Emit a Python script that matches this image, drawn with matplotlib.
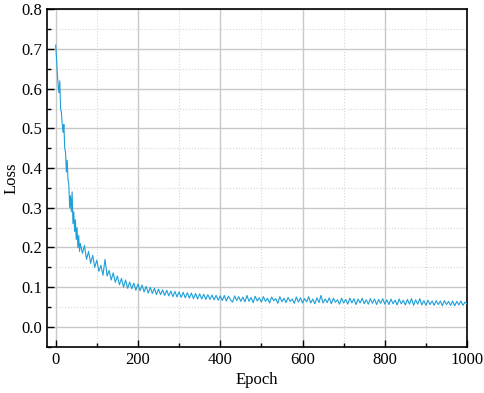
import numpy as np
import matplotlib
matplotlib.use('Agg')
import matplotlib.pyplot as plt
from matplotlib.ticker import MultipleLocator, FormatStrFormatter

plt.rcParams['font.family'] = ['Liberation Serif', 'DejaVu Serif']

# 前60个epoch每2步读一次，之后每5步读一次
epochs = np.r_[0:60:2, 60:1001:5]

loss_early = [0.71, 0.68, 0.64, 0.61, 0.59, 0.62, 0.55, 0.54, 0.51, 0.49,
              0.51, 0.45, 0.44, 0.39, 0.42, 0.37, 0.36, 0.30, 0.33, 0.29,
              0.34, 0.26, 0.29, 0.24, 0.27, 0.22, 0.25, 0.20, 0.23, 0.19]

loss_mid = [0.21, 0.185, 0.205, 0.17, 0.19, 0.16, 0.18, 0.15, 0.168, 0.14,  # 60-105
            0.155, 0.13, 0.17, 0.128, 0.142, 0.118, 0.136, 0.112, 0.128, 0.106,  # 110-155
            0.122, 0.10, 0.118, 0.097, 0.113, 0.096, 0.11, 0.092, 0.108, 0.091,  # 160-205
            0.105, 0.088, 0.102, 0.085, 0.099, 0.084, 0.097, 0.081, 0.095, 0.081,  # 210-255
            0.093, 0.079, 0.092, 0.078, 0.09, 0.076, 0.089, 0.075, 0.088, 0.074,  # 260-305
            0.087, 0.073, 0.086, 0.072, 0.085, 0.071, 0.084, 0.07, 0.083, 0.07,  # 310-355
            0.082, 0.069, 0.081, 0.069, 0.08, 0.068, 0.079, 0.067, 0.078]  # 360-400

loss_late = [0.066, 0.079, 0.065, 0.077, 0.068, 0.062, 0.078, 0.066, 0.076, 0.064,  # 405-450
             0.075, 0.063, 0.079, 0.064, 0.074, 0.061, 0.077, 0.065, 0.073, 0.062,  # 455-500
             0.076, 0.064, 0.072, 0.060, 0.075, 0.066, 0.071, 0.059, 0.076, 0.063,  # 505-550
             0.072, 0.061, 0.074, 0.064, 0.070, 0.059, 0.075, 0.062, 0.073, 0.060,  # 555-600
             0.071, 0.063, 0.076, 0.060, 0.070, 0.058, 0.073, 0.061, 0.079, 0.060,  # 605-650
             0.070, 0.061, 0.073, 0.058, 0.072, 0.062, 0.068, 0.057, 0.072, 0.060,  # 655-700
             0.069, 0.057, 0.072, 0.060, 0.071, 0.056, 0.070, 0.060, 0.072, 0.058,  # 705-750
             0.068, 0.057, 0.071, 0.059, 0.070, 0.056, 0.069, 0.059, 0.071, 0.057,  # 755-800
             0.068, 0.056, 0.070, 0.058, 0.067, 0.055, 0.070, 0.058, 0.067, 0.055,  # 805-850
             0.069, 0.057, 0.071, 0.054, 0.068, 0.057, 0.071, 0.055, 0.066, 0.054,  # 855-900
             0.067, 0.056, 0.065, 0.054, 0.066, 0.056, 0.065, 0.053, 0.066, 0.056,  # 905-950
             0.064, 0.054, 0.065, 0.053, 0.064, 0.055, 0.065, 0.054, 0.062, 0.058]  # 955-1000

loss = np.array(loss_early + loss_mid + loss_late)
n = min(len(epochs), len(loss))
epochs = epochs[:n]
loss = loss[:n]

fig = plt.figure(figsize=(4.84, 3.93), dpi=100)
ax = fig.add_axes([0.098, 0.118, 0.867, 0.858])

ax.plot(epochs, loss, color='#1e9fd8', linewidth=0.8, zorder=3)

ax.set_xlim(-20, 1000)
ax.set_ylim(-0.05, 0.8)
ax.xaxis.set_major_locator(MultipleLocator(200))
ax.xaxis.set_minor_locator(MultipleLocator(100))
ax.yaxis.set_major_locator(MultipleLocator(0.1))
ax.yaxis.set_minor_locator(MultipleLocator(0.05))
ax.yaxis.set_major_formatter(FormatStrFormatter('%.1f'))

ax.grid(which='major', color='#c8c8c8', linewidth=1.0, linestyle='-', zorder=0)
ax.grid(which='minor', color='#d6d6d6', linewidth=0.8, linestyle=':', zorder=0)
ax.set_axisbelow(True)

ax.tick_params(which='major', direction='in', length=5, width=1.0, labelsize=12, pad=4)
ax.tick_params(which='minor', direction='in', length=3, width=1.0)
for s in ax.spines.values():
    s.set_linewidth(1.2)

ax.set_xlabel('Epoch', fontsize=12, labelpad=3)
ax.set_ylabel('Loss', fontsize=12, labelpad=1)

fig.savefig('out.png', dpi=100)
